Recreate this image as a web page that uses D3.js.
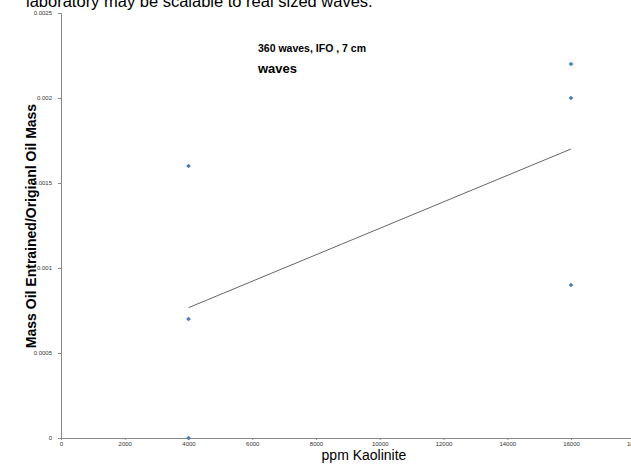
<!DOCTYPE html>
<html><head><meta charset="utf-8">
<script src="https://cdn.jsdelivr.net/npm/d3@7"></script>
<style>body{margin:0;background:#fff}svg{display:block;font-family:"Liberation Sans",Arial,sans-serif}</style>
</head><body>
<svg id="c" width="631" height="464"></svg>
<script>
const ppm = [4000, 4000, 4000, 16000, 16000, 16000];
const massRatio = [0.0016, 0.0007, 0.0, 0.0022, 0.002, 0.0009];
const xTicks = [0, 2000, 4000, 6000, 8000, 10000, 12000, 14000, 16000, 18000];
const yTicks = [0, 0.0005, 0.001, 0.0015, 0.002, 0.0025];

const svg = d3.select("#c");
const x = d3.scaleLinear().domain([0, 18000]).range([61, 634.75]);
const y = d3.scaleLinear().domain([0, 0.0025]).range([438, 13]);

// top cut-off text
svg.append("text").attr("x", 26).attr("y", 6.5).attr("font-size", 16.5).attr("fill", "#000")
  .text("laboratory may be scalable to real sized waves.");

// axes
const xa = svg.append("g").attr("transform", "translate(0,438)")
  .call(d3.axisBottom(x).tickValues(xTicks).tickSize(2).tickFormat(d3.format("d")));
xa.select(".domain").attr("stroke", "#888");
xa.selectAll(".tick line").attr("stroke", "#888");
xa.selectAll(".tick text").attr("font-size", 6).attr("fill", "#333").attr("y", 4).attr("dy", "0.71em")
  .attr("font-family", "Liberation Sans, Arial, sans-serif");
const ya = svg.append("g").attr("transform", "translate(61,0)")
  .call(d3.axisLeft(y).tickValues(yTicks).tickSize(3).tickFormat(d => d === 0 ? "0" : String(d)));
ya.select(".domain").attr("stroke", "#888");
ya.selectAll(".tick line").attr("stroke", "#888");
ya.selectAll(".tick text").attr("font-size", 6).attr("fill", "#333").attr("x", -9)
  .attr("font-family", "Liberation Sans, Arial, sans-serif");

// trendline (least squares)
const n = ppm.length;
const mx = d3.mean(ppm), my = d3.mean(massRatio);
let sxy = 0, sxx = 0;
for (let i = 0; i < n; i++) { sxy += (ppm[i]-mx)*(massRatio[i]-my); sxx += (ppm[i]-mx)**2; }
const slope = sxy / sxx, icpt = my - slope * mx;
const x0 = d3.min(ppm), x1 = d3.max(ppm);
svg.append("line").attr("x1", x(x0)).attr("y1", y(icpt + slope*x0))
  .attr("x2", x(x1)).attr("y2", y(icpt + slope*x1)).attr("stroke", "#555").attr("stroke-width", 0.9);

// points
svg.selectAll("path.pt").data(ppm.map((d,i)=>[d, massRatio[i]])).enter().append("path")
  .attr("class","pt").attr("transform", d => `translate(${x(d[0])},${y(d[1])}) rotate(45)`)
  .attr("d", d3.symbol().type(d3.symbolSquare).size(11)).attr("fill", "#4a7ebb");

// annotation
svg.append("text").attr("x", 258).attr("y", 52).attr("font-size", 10.5).attr("font-weight", "bold").text("360 waves, IFO , 7 cm");
svg.append("text").attr("x", 258).attr("y", 73).attr("font-size", 13).attr("font-weight", "bold").text("waves");

// axis titles
svg.append("text").attr("x", 364).attr("y", 460).attr("text-anchor", "middle").attr("font-size", 14).text("ppm Kaolinite");
svg.append("text").attr("transform", "translate(36,226) rotate(-90)").attr("text-anchor", "middle")
  .attr("font-size", 14).attr("font-weight", "bold").text("Mass Oil Entrained/Origianl Oil Mass");
</script>
</body></html>
